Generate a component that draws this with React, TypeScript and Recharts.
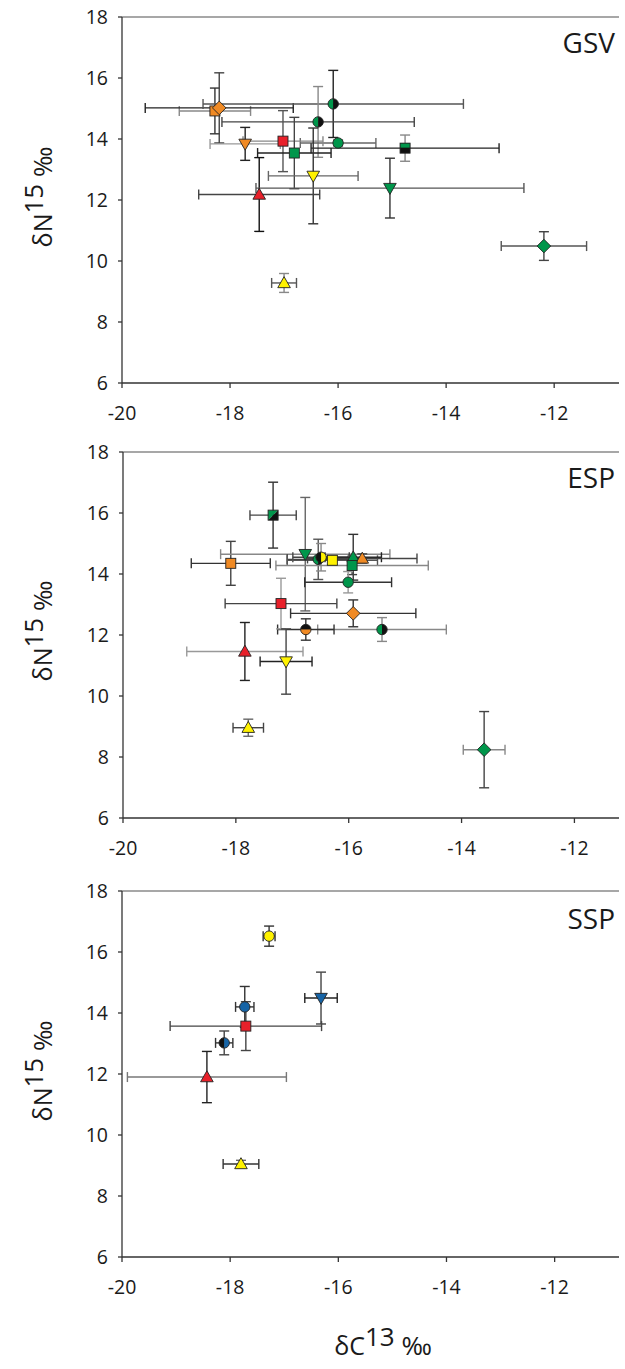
import React from 'react';
import { ScatterChart, Scatter, XAxis, YAxis, ErrorBar, ReferenceLine } from 'recharts';

// ---------- data ----------
const xTicks = [-20, -18, -16, -14, -12];
const yTicks = [6, 8, 10, 12, 14, 16, 18];
const panelTitles = ['GSV', 'ESP', 'SSP'];

// GSV
const gsvX = [-18.28, -18.2, -16.09, -16.37, -16.0, -14.76, -17.72, -17.02, -16.81, -16.46, -17.46, -17.0, -15.04, -12.19];
const gsvY = [14.92, 15.02, 15.15, 14.56, 13.87, 13.7, 13.84, 13.93, 13.54, 12.79, 12.18, 9.28, 12.39, 10.49];
const gsvXErr = [0.66, 1.37, 2.41, 1.78, 0.7, 1.74, 0.65, 0.74, 0.68, 0.83, 1.12, 0.23, 2.48, 0.79];
const gsvYErr = [0.75, 1.15, 1.1, 1.16, 0.1, 0.43, 0.54, 1.0, 1.17, 1.57, 1.21, 0.31, 0.98, 0.47];

// ESP
const espX = [-17.34, -18.09, -16.77, -16.54, -16.49, -16.29, -15.92, -15.76, -15.94, -16.01, -15.92, -15.41, -16.76, -17.2, -17.84, -17.11, -17.78, -13.6];
const espY = [15.93, 14.35, 14.65, 14.48, 14.55, 14.45, 14.55, 14.51, 14.28, 13.73, 12.71, 12.18, 12.18, 13.03, 11.46, 11.13, 8.96, 8.24];
const espXErr = [0.41, 0.7, 1.5, 0.55, 0.5, 0.8, 0.5, 0.97, 1.35, 0.77, 1.11, 1.14, 0.5, 0.99, 1.03, 0.46, 0.27, 0.37];
const espYErr = [1.08, 0.72, 1.86, 0.66, 0.45, 0.15, 0.75, 0.15, 0.3, 0.35, 0.44, 0.39, 0.35, 0.83, 0.95, 1.07, 0.28, 1.25];

// SSP
const sspX = [-17.28, -16.32, -17.73, -17.71, -18.11, -18.43, -17.8];
const sspY = [16.52, 14.49, 14.2, 13.57, 13.02, 11.9, 9.05];
const sspXErr = [0.11, 0.3, 0.17, 1.4, 0.16, 1.47, 0.33];
const sspYErr = [0.33, 0.85, 0.67, 0.8, 0.39, 0.84, 0.12];

// ---------- styles ----------
const GREEN = '#00964B';
const ORANGE = '#F08A24';
const RED = '#E8202A';
const YELLOW = '#FFF200';
const BLUE = '#1664A6';
const BLACK = '#111111';

type Mk = { kind: string; fill: string; fill2?: string; xs: string; ys: string };

const gsvStyle: Mk[] = [
  { kind: 'square', fill: ORANGE, xs: '#888', ys: '#333' },
  { kind: 'diamond', fill: ORANGE, xs: '#222', ys: '#444' },
  { kind: 'circleV', fill: GREEN, fill2: BLACK, xs: '#555', ys: '#222' },
  { kind: 'circleV', fill: GREEN, fill2: BLACK, xs: '#444', ys: '#888' },
  { kind: 'circle', fill: GREEN, xs: '#666', ys: '#666' },
  { kind: 'squareH', fill: GREEN, fill2: BLACK, xs: '#222', ys: '#888' },
  { kind: 'triDown', fill: ORANGE, xs: '#999', ys: '#222' },
  { kind: 'square', fill: RED, xs: '#888', ys: '#555' },
  { kind: 'square', fill: GREEN, xs: '#222', ys: '#444' },
  { kind: 'triDown', fill: YELLOW, xs: '#666', ys: '#333' },
  { kind: 'triUp', fill: RED, xs: '#444', ys: '#111' },
  { kind: 'triUp', fill: YELLOW, xs: '#555', ys: '#888' },
  { kind: 'triDown', fill: GREEN, xs: '#555', ys: '#333' },
  { kind: 'diamond', fill: GREEN, xs: '#555', ys: '#444' },
];

const espStyle: Mk[] = [
  { kind: 'squareD', fill: GREEN, fill2: BLACK, xs: '#444', ys: '#333' },
  { kind: 'square', fill: ORANGE, xs: '#333', ys: '#444' },
  { kind: 'triDown', fill: GREEN, xs: '#888', ys: '#666' },
  { kind: 'circleV', fill: GREEN, fill2: BLACK, xs: '#333', ys: '#555' },
  { kind: 'circleV', fill: BLACK, fill2: YELLOW, xs: '#444', ys: '#888' },
  { kind: 'square', fill: YELLOW, xs: '#555', ys: '#555' },
  { kind: 'triUp', fill: GREEN, xs: '#222', ys: '#333' },
  { kind: 'triUp', fill: ORANGE, xs: '#444', ys: '#444' },
  { kind: 'square', fill: GREEN, xs: '#888', ys: '#444' },
  { kind: 'circle', fill: GREEN, xs: '#333', ys: '#999' },
  { kind: 'diamond', fill: ORANGE, xs: '#333', ys: '#333' },
  { kind: 'circleV', fill: GREEN, fill2: BLACK, xs: '#888', ys: '#888' },
  { kind: 'circleH', fill: BLACK, fill2: ORANGE, xs: '#333', ys: '#333' },
  { kind: 'square', fill: RED, xs: '#444', ys: '#999' },
  { kind: 'triUp', fill: RED, xs: '#999', ys: '#222' },
  { kind: 'triDown', fill: YELLOW, xs: '#222', ys: '#444' },
  { kind: 'triUp', fill: YELLOW, xs: '#444', ys: '#666' },
  { kind: 'diamond', fill: GREEN, xs: '#888', ys: '#444' },
];

const sspStyle: Mk[] = [
  { kind: 'circle', fill: YELLOW, xs: '#333', ys: '#333' },
  { kind: 'triDown', fill: BLUE, xs: '#222', ys: '#444' },
  { kind: 'circle', fill: BLUE, xs: '#333', ys: '#333' },
  { kind: 'square', fill: RED, xs: '#444', ys: '#444' },
  { kind: 'circleV', fill: BLACK, fill2: BLUE, xs: '#333', ys: '#444' },
  { kind: 'triUp', fill: RED, xs: '#777', ys: '#222' },
  { kind: 'triUp', fill: YELLOW, xs: '#333', ys: '#666' },
];

const EDGE = '#222';

function Marker({ cx, cy, mk }: { cx: number; cy: number; mk: Mk }) {
  if (cx == null || cy == null || isNaN(cx) || isNaN(cy)) return null;
  const sw = 0.9;
  const r = 5.2;
  const s = 5;
  switch (mk.kind) {
    case 'square':
      return <rect x={cx - s} y={cy - s} width={2 * s} height={2 * s} fill={mk.fill} stroke={EDGE} strokeWidth={sw} />;
    case 'squareH':
      return (
        <g>
          <rect x={cx - s} y={cy - s} width={2 * s} height={2 * s} fill={mk.fill2} />
          <rect x={cx - s} y={cy - s} width={2 * s} height={s * 0.9} fill={mk.fill} />
          <rect x={cx - s} y={cy - s} width={2 * s} height={2 * s} fill="none" stroke={EDGE} strokeWidth={sw} />
        </g>
      );
    case 'squareD':
      return (
        <g>
          <polygon points={`${cx - s},${cy - s} ${cx + s},${cy - s} ${cx - s},${cy + s}`} fill={mk.fill} />
          <polygon points={`${cx + s},${cy - s} ${cx + s},${cy + s} ${cx - s},${cy + s}`} fill={mk.fill2} />
          <rect x={cx - s} y={cy - s} width={2 * s} height={2 * s} fill="none" stroke={EDGE} strokeWidth={sw} />
        </g>
      );
    case 'diamond': {
      const d = 6.8;
      return <polygon points={`${cx},${cy - d} ${cx + d},${cy} ${cx},${cy + d} ${cx - d},${cy}`} fill={mk.fill} stroke={EDGE} strokeWidth={sw} />;
    }
    case 'circle':
      return <circle cx={cx} cy={cy} r={r} fill={mk.fill} stroke={EDGE} strokeWidth={sw} />;
    case 'circleV':
      return (
        <g>
          <path d={`M${cx},${cy - r} A${r},${r} 0 0 0 ${cx},${cy + r} Z`} fill={mk.fill} />
          <path d={`M${cx},${cy - r} A${r},${r} 0 0 1 ${cx},${cy + r} Z`} fill={mk.fill2} />
          <circle cx={cx} cy={cy} r={r} fill="none" stroke={EDGE} strokeWidth={sw} />
        </g>
      );
    case 'circleH':
      return (
        <g>
          <path d={`M${cx - r},${cy} A${r},${r} 0 0 1 ${cx + r},${cy} Z`} fill={mk.fill} />
          <path d={`M${cx - r},${cy} A${r},${r} 0 0 0 ${cx + r},${cy} Z`} fill={mk.fill2} />
          <circle cx={cx} cy={cy} r={r} fill="none" stroke={EDGE} strokeWidth={sw} />
        </g>
      );
    case 'triUp':
      return <polygon points={`${cx},${cy - 6.3} ${cx + 6.3},${cy + 4.7} ${cx - 6.3},${cy + 4.7}`} fill={mk.fill} stroke={EDGE} strokeWidth={sw} />;
    case 'triDown':
      return <polygon points={`${cx - 6.3},${cy - 4.7} ${cx + 6.3},${cy - 4.7} ${cx},${cy + 6.3}`} fill={mk.fill} stroke={EDGE} strokeWidth={sw} />;
    default:
      return null;
  }
}

const FONT = "'Open Sans', sans-serif";
const AXIS = '#333';

type PanelProps = {
  top: number;
  xs: number[];
  ys: number[];
  xe: number[];
  ye: number[];
  styles: Mk[];
  yAxisWidth: number;
  xMax: number;
};

function Panel({ top, xs, ys, xe, ye, styles, yAxisWidth, xMax }: PanelProps) {
  return (
    <div style={{ position: 'absolute', left: 0, top }}>
      <ScatterChart width={625} height={430} margin={{ top: 17, right: 6, bottom: 0, left: 0 }} style={{ fontFamily: FONT }}>
        <XAxis
          type="number"
          dataKey="x"
          domain={[-20, xMax]}
          ticks={xTicks}
          allowDataOverflow
          height={47}
          tickSize={5}
          tickMargin={18}
          stroke={AXIS}
          strokeWidth={1.3}
          tick={{ fontSize: 19.5, fill: '#1a1a1a', fontFamily: FONT }}
          interval={0}
        />
        <YAxis
          type="number"
          dataKey="y"
          domain={[6, 18]}
          ticks={yTicks}
          allowDataOverflow
          width={yAxisWidth}
          tickSize={4}
          tickMargin={10}
          stroke={AXIS}
          strokeWidth={1.3}
          tick={{ fontSize: 19.5, fill: '#1a1a1a', fontFamily: FONT }}
          interval={0}
        />
        <ReferenceLine y={18} stroke="#8a8a8a" strokeWidth={1.5} ifOverflow="visible" />
        {xs.map((x, i) => (
          <Scatter
            key={i}
            data={[{ x, y: ys[i], ex: xe[i], ey: ye[i] }]}
            isAnimationActive={false}
            shape={(p: any) => <Marker cx={p.cx} cy={p.cy} mk={styles[i]} />}
          >
            <ErrorBar dataKey="ex" direction="x" width={5} stroke={styles[i].xs} strokeWidth={1.4} isAnimationActive={false} />
            <ErrorBar dataKey="ey" direction="y" width={5} stroke={styles[i].ys} strokeWidth={1.4} isAnimationActive={false} />
          </Scatter>
        ))}
      </ScatterChart>
    </div>
  );
}

function YLabel({ cy }: { cy: number }) {
  return (
    <text transform={`translate(52,${cy}) rotate(-90)`} textAnchor="middle" fontFamily={FONT} fill="#1a1a1a">
      <tspan fontSize={25}>δN</tspan>
      <tspan fontSize={26} dy={-9}>15</tspan>
      <tspan fontSize={26} dy={9}> ‰</tspan>
    </text>
  );
}

export default function App() {
  return (
    <div style={{ position: 'absolute', left: 0, top: 0, width: 625, height: 1369, background: '#fff', overflow: 'hidden' }}>
      <Panel top={0} xs={gsvX} ys={gsvY} xe={gsvXErr} ye={gsvYErr} styles={gsvStyle} yAxisWidth={122} xMax={-10.8} />
      <Panel top={435} xs={espX} ys={espY} xe={espXErr} ye={espYErr} styles={espStyle} yAxisWidth={123} xMax={-11.21} />
      <Panel top={874} xs={sspX} ys={sspY} xe={sspXErr} ye={sspYErr} styles={sspStyle} yAxisWidth={122} xMax={-10.81} />
      <svg width={625} height={1369} style={{ position: 'absolute', left: 0, top: 0, pointerEvents: 'none' }}>
        <text x={615} y={53} textAnchor="end" fontSize={28} fontFamily={FONT} fill="#1a1a1a">{panelTitles[0]}</text>
        <text x={615} y={488} textAnchor="end" fontSize={28} fontFamily={FONT} fill="#1a1a1a">{panelTitles[1]}</text>
        <text x={615} y={929} textAnchor="end" fontSize={28} fontFamily={FONT} fill="#1a1a1a">{panelTitles[2]}</text>
        <YLabel cy={197} />
        <YLabel cy={631} />
        <YLabel cy={1071} />
        <text x={383} y={1355} textAnchor="middle" fontFamily={FONT} fill="#1a1a1a">
          <tspan fontSize={25}>δC</tspan>
          <tspan fontSize={26} dy={-9}>13</tspan>
          <tspan fontSize={26} dy={9}> ‰</tspan>
        </text>
      </svg>
    </div>
  );
}
